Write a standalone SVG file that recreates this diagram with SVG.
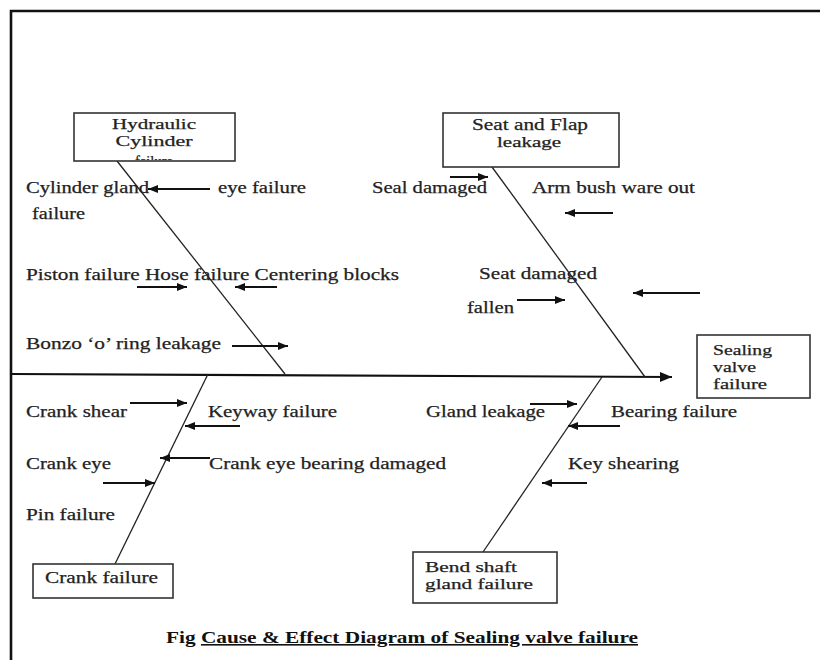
<svg xmlns="http://www.w3.org/2000/svg" width="820" height="660" viewBox="0 0 820 660">
<style>
  text { font-family: "Liberation Serif", "Times New Roman", serif; font-size: 17px; fill: #222; stroke: #222; stroke-width: 0.25; }
  .box { fill: #fff; stroke: #333; stroke-width: 1.6; }
  .bone { stroke: #222; stroke-width: 1.3; fill: none; }
  .arr { stroke: #111; stroke-width: 2; fill: none; marker-end: url(#ah); }
  .frame { stroke: #111; stroke-width: 2.6; fill: none; }
  .small { font-size: 14px; }
  .bl { font-size: 14.5px; }
  .cap { font-weight: bold; font-size: 16px; fill: #111; stroke: none; }
</style>
<defs>
  <marker id="ah" markerUnits="userSpaceOnUse" markerWidth="11" markerHeight="8" refX="10" refY="4" orient="auto">
    <path d="M0,0 L10,4 L0,8 z" fill="#111"/>
  </marker>
  <marker id="ah2" markerUnits="userSpaceOnUse" markerWidth="13" markerHeight="10" refX="12" refY="5" orient="auto">
    <path d="M0,0 L12,5 L0,10 z" fill="#111"/>
  </marker>
  <clipPath id="clipHyd"><rect x="75" y="114" width="159" height="46"/></clipPath>
</defs>
<rect x="0" y="0" width="820" height="660" fill="#fff"/>
<path class="frame" d="M11,660 L11,11 L820,11"/>

<g id="connectors">
  <line x1="12" y1="374" x2="672" y2="377" stroke="#111" stroke-width="2.2" marker-end="url(#ah2)"/>
  <line class="bone" x1="117" y1="161" x2="285" y2="374"/>
  <line class="bone" x1="492" y1="167" x2="645" y2="377"/>
  <line class="bone" x1="208" y1="374" x2="115" y2="564"/>
  <line class="bone" x1="602" y1="377" x2="483" y2="552"/>
  <line class="arr" x1="210" y1="189" x2="148" y2="189"/>
  <line class="arr" x1="137" y1="287" x2="187" y2="287"/>
  <line class="arr" x1="277" y1="287" x2="235" y2="287"/>
  <line class="arr" x1="232" y1="346" x2="288" y2="346"/>
  <line class="arr" x1="450" y1="177" x2="488" y2="177"/>
  <line class="arr" x1="613" y1="213" x2="565" y2="213"/>
  <line class="arr" x1="700" y1="293" x2="633" y2="293"/>
  <line class="arr" x1="517" y1="300" x2="565" y2="300"/>
  <line class="arr" x1="130" y1="403" x2="187" y2="403"/>
  <line class="arr" x1="240" y1="426" x2="185" y2="426"/>
  <line class="arr" x1="210" y1="458" x2="160" y2="458"/>
  <line class="arr" x1="103" y1="483" x2="155" y2="483"/>
  <line class="arr" x1="530" y1="404" x2="577" y2="404"/>
  <line class="arr" x1="620" y1="426" x2="568" y2="426"/>
  <line class="arr" x1="587" y1="483" x2="542" y2="483"/>
</g>

<g id="hydraulic">
  <rect class="box" x="74" y="113" width="161" height="48"/>
  <text class="bl" x="154" y="129" text-anchor="middle" textLength="84" lengthAdjust="spacingAndGlyphs">Hydraulic</text>
  <text class="bl" x="154" y="146" text-anchor="middle" textLength="77" lengthAdjust="spacingAndGlyphs">Cylinder</text>
  <text class="bl" x="154" y="166" text-anchor="middle" clip-path="url(#clipHyd)">failure</text>
</g>

<g id="seatflap">
  <rect class="box" x="443" y="113" width="176" height="54"/>
  <text x="530" y="130" text-anchor="middle" textLength="116" lengthAdjust="spacingAndGlyphs">Seat and Flap</text>
  <text class="small" x="529" y="147" text-anchor="middle" textLength="64" lengthAdjust="spacingAndGlyphs">leakage</text>
</g>

<g id="sealing">
  <rect class="box" x="697" y="335" width="113" height="63"/>
  <text class="bl" x="713" y="355" textLength="59" lengthAdjust="spacingAndGlyphs">Sealing</text>
  <text class="bl" x="713" y="372" textLength="43" lengthAdjust="spacingAndGlyphs">valve</text>
  <text class="bl" x="713" y="389" textLength="54" lengthAdjust="spacingAndGlyphs">failure</text>
</g>

<g id="crank">
  <rect class="box" x="33" y="564" width="140" height="34"/>
  <text x="45" y="583" textLength="113" lengthAdjust="spacingAndGlyphs">Crank failure</text>
</g>

<g id="bendshaft">
  <rect class="box" x="413" y="552" width="144" height="51"/>
  <text class="bl" x="425" y="572" textLength="92" lengthAdjust="spacingAndGlyphs">Bend shaft</text>
  <text class="bl" x="425" y="589" textLength="108" lengthAdjust="spacingAndGlyphs">gland failure</text>
</g>

<g id="causes-hydraulic">
  <text x="26" y="193" textLength="123" lengthAdjust="spacingAndGlyphs">Cylinder gland</text>
  <text x="218" y="193" textLength="88" lengthAdjust="spacingAndGlyphs">eye failure</text>
  <text x="32" y="219" textLength="53" lengthAdjust="spacingAndGlyphs">failure</text>
  <text x="26" y="280" textLength="373" lengthAdjust="spacingAndGlyphs">Piston failure Hose failure Centering blocks</text>
  <text x="26" y="349" textLength="195" lengthAdjust="spacingAndGlyphs">Bonzo ‘o’ ring leakage</text>
</g>

<g id="causes-seat">
  <text x="372" y="193" textLength="115" lengthAdjust="spacingAndGlyphs">Seal damaged</text>
  <text x="532" y="193" textLength="163" lengthAdjust="spacingAndGlyphs">Arm bush ware out</text>
  <text x="479" y="279" textLength="118" lengthAdjust="spacingAndGlyphs">Seat damaged</text>
  <text x="467" y="313" textLength="47" lengthAdjust="spacingAndGlyphs">fallen</text>
</g>

<g id="causes-crank">
  <text x="26" y="417" textLength="101" lengthAdjust="spacingAndGlyphs">Crank shear</text>
  <text x="208" y="417" textLength="129" lengthAdjust="spacingAndGlyphs">Keyway failure</text>
  <text x="26" y="469" textLength="85" lengthAdjust="spacingAndGlyphs">Crank eye</text>
  <text x="209" y="469" textLength="237" lengthAdjust="spacingAndGlyphs">Crank eye bearing damaged</text>
  <text x="26" y="520" textLength="89" lengthAdjust="spacingAndGlyphs">Pin failure</text>
</g>

<g id="causes-bendshaft">
  <text x="426" y="417" textLength="119" lengthAdjust="spacingAndGlyphs">Gland leakage</text>
  <text x="611" y="417" textLength="126" lengthAdjust="spacingAndGlyphs">Bearing failure</text>
  <text x="568" y="469" textLength="111" lengthAdjust="spacingAndGlyphs">Key shearing</text>
</g>

<g id="caption">
  <text class="cap" x="166" y="643" textLength="472" lengthAdjust="spacingAndGlyphs">Fig <tspan text-decoration="underline">Cause &amp; Effect Diagram of Sealing valve failure</tspan></text>
</g>
</svg>
